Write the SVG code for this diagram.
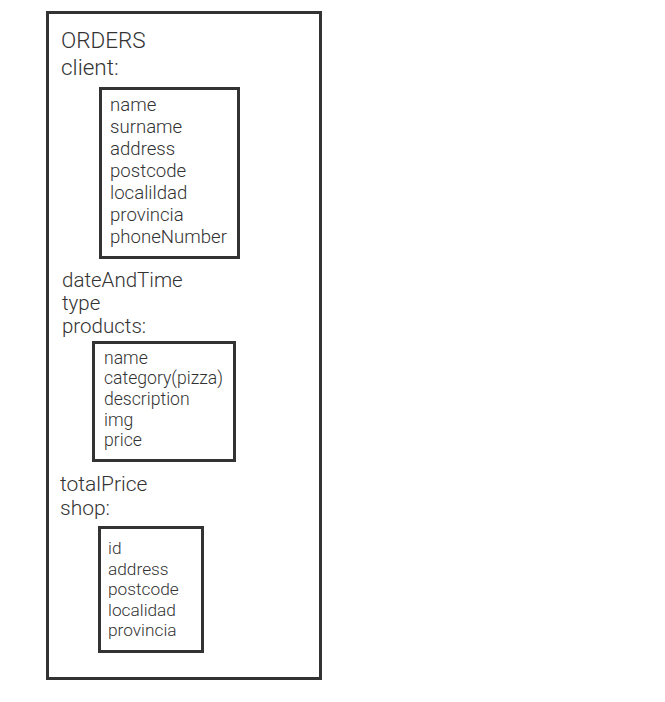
<svg xmlns="http://www.w3.org/2000/svg" width="665" height="702" viewBox="0 0 665 702">
<style>
.box{fill:#fff;stroke:#333;stroke-width:3}
text{font-family:Roboto,"Liberation Sans",sans-serif;fill:#333;font-weight:300}
.big{font-size:22.5px}
.mid{font-size:20.5px}
.tp{font-size:21px}
.cl{font-size:18.6px}
.pr{font-size:17.6px}
.xs{font-size:17.3px}
</style>
<rect width="665" height="702" fill="#fff"/>
<g id="orders">
<rect class="box" x="47.5" y="12.5" width="273" height="666"/>
<text class="big" x="61" y="48">ORDERS</text>
<text class="big" x="61" y="75">client:</text>
<text class="mid" x="62" y="287">dateAndTime</text>
<text class="mid" x="62" y="310">type</text>
<text class="mid" x="62" y="333">products:</text>
<text class="tp" x="60" y="491">totalPrice</text>
<text class="tp" x="60" y="515">shop:</text>
</g>
<g id="client">
<rect class="box" x="100.5" y="88.5" width="138" height="169"/>
<text class="cl" x="110" y="111">name</text>
<text class="cl" x="110" y="133">surname</text>
<text class="cl" x="110" y="155">address</text>
<text class="cl" x="110" y="177">postcode</text>
<text class="cl" x="110" y="199">localildad</text>
<text class="cl" x="110" y="221">provincia</text>
<text class="cl" x="110" y="243">phoneNumber</text>
</g>
<g id="products">
<rect class="box" x="93.5" y="342.5" width="141" height="118"/>
<text class="pr" x="104" y="364">name</text>
<text class="pr" x="104" y="384">category(pizza)</text>
<text class="pr" x="104" y="405">description</text>
<text class="pr" x="104" y="426">img</text>
<text class="pr" x="104" y="446">price</text>
</g>
<g id="shop">
<rect class="box" x="99.5" y="527.5" width="103" height="124"/>
<text class="xs" x="108" y="554">id</text>
<text class="xs" x="108" y="575">address</text>
<text class="xs" x="108" y="595">postcode</text>
<text class="xs" x="108" y="616">localidad</text>
<text class="xs" x="108" y="636">provincia</text>
</g>
<g id="connectors"></g>
</svg>
